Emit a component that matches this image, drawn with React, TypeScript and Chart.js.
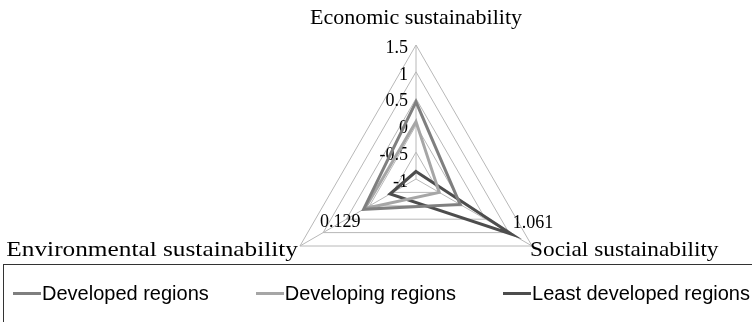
import React, { useEffect, useRef } from "react";
import { Chart, registerables } from "chart.js";

Chart.register(...registerables);

const axisLabels = ["Economic sustainability", "Social sustainability", "Environmental sustainability"];
const developed = [0.44, -0.05, 0.129];
const developing = [0.07, -0.5, 0.1];
const leastDeveloped = [-0.86, 1.061, -0.44];
const seriesNames = ["Developed regions", "Developing regions", "Least developed regions"];
const seriesColors = ["#7f7f7f", "#a6a6a6", "#4d4d4d"];
const tickValues = [1.5, 1, 0.5, 0, -0.5, -1];
const tickLabels = ["1.5", "1", "0.5", "0", "-0.5", "-1"];
const labeledPoints = [
  { dataset: 0, index: 2 },
  { dataset: 2, index: 1 },
];
// horizontal stretch of each axis title's glyphs, to match the source's wider face
const titleStretch = [1.0, 1.06, 1.15];

const SERIF = '"Liberation Serif", "Times New Roman", serif';

function drawStretched(ctx: any, text: string, x: number, y: number, sx: number, align: "left" | "right" | "center") {
  ctx.save();
  ctx.translate(x, y);
  ctx.scale(sx, 1);
  ctx.textAlign = align;
  ctx.fillText(text, 0, 0);
  ctx.restore();
}

const overlayPlugin = {
  id: "overlay",
  beforeDatasetsDraw(chart: any) {
    const scale = chart.scales.r;
    const ctx = chart.ctx;
    ctx.save();
    ctx.fillStyle = "#000";
    ctx.font = `18px ${SERIF}`;
    ctx.textAlign = "right";
    ctx.textBaseline = "middle";
    tickValues.forEach((v, i) => {
      const p = scale.getPointPositionForValue(0, v);
      ctx.fillText(tickLabels[i], p.x - 8, p.y + 3);
    });
    // axis titles
    ctx.font = `22px ${SERIF}`;
    const top = scale.getPointPositionForValue(0, scale.max);
    drawStretched(ctx, axisLabels[0], top.x, top.y - 27, titleStretch[0], "center");
    const right = scale.getPointPositionForValue(1, scale.max);
    drawStretched(ctx, axisLabels[1], right.x - 2, right.y + 4, titleStretch[1], "left");
    const left = scale.getPointPositionForValue(2, scale.max);
    drawStretched(ctx, axisLabels[2], left.x - 2, left.y + 4, titleStretch[2], "right");
    ctx.restore();
  },
  afterDatasetsDraw(chart: any) {
    const scale = chart.scales.r;
    const ctx = chart.ctx;
    ctx.save();
    ctx.fillStyle = "#000";
    ctx.font = `18px ${SERIF}`;
    ctx.textBaseline = "middle";
    labeledPoints.forEach(({ dataset, index }) => {
      const v = chart.data.datasets[dataset].data[index] as number;
      const p = scale.getPointPositionForValue(index, v);
      if (index === 2) {
        ctx.textAlign = "right";
        ctx.fillText(v.toFixed(3), p.x - 3, p.y + 13);
      } else {
        ctx.textAlign = "left";
        ctx.fillText(v.toFixed(3), p.x + 1, p.y - 11);
      }
    });
    ctx.restore();
  },
};

export default function App() {
  const ref = useRef<HTMLCanvasElement>(null);
  useEffect(() => {
    if (!ref.current) return;
    const chart = new Chart(ref.current, {
      type: "radar",
      data: {
        labels: axisLabels,
        datasets: [developed, developing, leastDeveloped].map((d, i) => ({
          label: seriesNames[i],
          data: d,
          borderColor: seriesColors[i],
          backgroundColor: "transparent",
          borderWidth: 3,
          pointRadius: 0,
          fill: false,
        })),
      },
      options: {
        responsive: false,
        animation: false,
        devicePixelRatio: 1,
        layout: { padding: { left: 282, top: 45, right: 202, bottom: 9 } },
        plugins: { legend: { display: false }, tooltip: { enabled: false } },
        scales: {
          r: {
            min: -1,
            max: 1.5,
            ticks: { stepSize: 0.5, display: false },
            pointLabels: { display: false },
            grid: { color: "#b8b8b8", lineWidth: 1 },
            angleLines: { color: "#b8b8b8", lineWidth: 1 },
          },
        },
      },
      plugins: [overlayPlugin],
    });
    return () => chart.destroy();
  }, []);

  const lineStyle = (c: string): React.CSSProperties => ({
    display: "inline-block",
    width: 28,
    height: 3,
    background: c,
    verticalAlign: "middle",
  });

  return (
    <div style={{ position: "fixed", left: 0, top: 0, width: 752, height: 322, overflow: "hidden", background: "#fff" }}>
      <canvas ref={ref} width={752} height={322} style={{ display: "block", position: "absolute", left: 0, top: 0 }} />
      <div
        style={{
          position: "absolute",
          left: 3,
          top: 264,
          width: 800,
          height: 80,
          border: "1px solid #333",
          boxSizing: "border-box",
          fontFamily: '"Liberation Sans", Arial, sans-serif',
          fontSize: 20,
          color: "#000",
        }}
      >
        <div style={{ position: "absolute", top: 16, left: 9, display: "flex", alignItems: "center", whiteSpace: "nowrap", lineHeight: "24px" }}>
          {seriesNames.map((n, i) => (
            <span key={n} style={{ display: "inline-flex", alignItems: "center", marginRight: i < seriesNames.length - 1 ? 47 : 0 }}>
              <span style={lineStyle(seriesColors[i])} />
              <span style={{ marginLeft: 1 }}>{n}</span>
            </span>
          ))}
        </div>
      </div>
    </div>
  );
}
